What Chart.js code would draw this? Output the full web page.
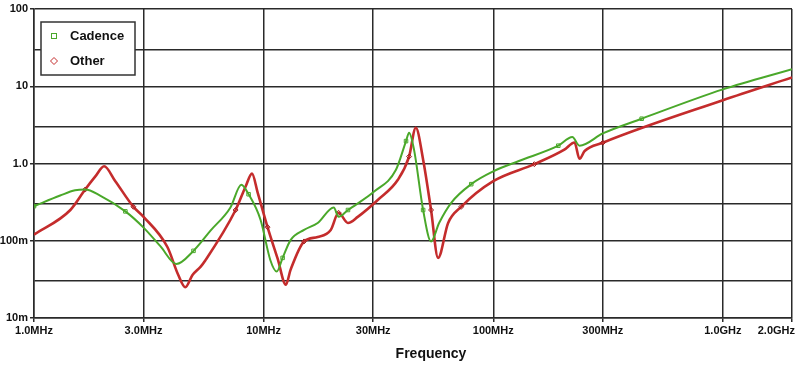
<!DOCTYPE html>
<html><head><meta charset="utf-8">
<script src="https://cdn.jsdelivr.net/npm/chart.js@4/dist/chart.umd.min.js"></script>
<style>html,body{margin:0;padding:0;background:#fff}#wrap{width:800px;height:367px;position:relative}</style>
</head><body><div id="wrap"><canvas id="c" width="800" height="367"></canvas></div>
<script>
// Frequencies in MHz, impedance values in ohms
const cadenceFreqMHz = [1.0,1.30,1.51,1.67,1.94,2.5,3.0,3.55,4.17,4.95,5.87,7.17,8.0,8.6,9.7,10.7,11.4,12.1,13.1,15.0,17.2,20.2,21.2,23.3,30.2,37.7,41.7,43,45.2,49.5,53.6,58.1,65.6,80.2,100,128.5,192,221,237.5,300,443,1000,2000];
const cadenceValues  = [0.28,0.385,0.45,0.46,0.385,0.24,0.148,0.085,0.05,0.074,0.135,0.27,0.53,0.40,0.186,0.056,0.04,0.060,0.102,0.138,0.17,0.27,0.204,0.25,0.43,0.83,1.95,2.5,1.5,0.25,0.098,0.17,0.31,0.54,0.79,1.07,1.70,2.2,1.70,2.45,3.8,9.1,16.6];
const otherFreqMHz   = [1.0,1.44,1.67,1.85,2.02,2.26,2.71,3.0,3.81,4.25,4.56,4.90,5.31,5.58,7.55,8.34,8.9,9.42,10.4,11.5,12.5,13.1,15.0,17.2,19.6,21.2,23.3,25.7,31.5,38.5,43.0,46,49.5,53.6,57.5,63.6,72.5,100,151,204,226,237.5,250,300,1000,2000];
const otherValues    = [0.12,0.25,0.46,0.68,0.92,0.59,0.275,0.204,0.083,0.036,0.025,0.036,0.046,0.056,0.25,0.5,0.74,0.42,0.15,0.059,0.027,0.042,0.098,0.112,0.138,0.23,0.17,0.204,0.34,0.62,1.23,2.9,1.12,0.25,0.06,0.17,0.275,0.59,0.98,1.51,1.87,1.15,1.45,1.86,6.6,13];
const cadenceMarkerIdx = [0,5,9,13,17,23,26,29,33,36,40];
const otherMarkerIdx = [2,6,14,18,22,25,30,33,36,38,43];
const xTicksMHz = [1,3,10,30,100,300,1000,2000];
const xTickLabels = ['1.0MHz','3.0MHz','10MHz','30MHz','100MHz','300MHz','1.0GHz','2.0GHz'];
const yTicks = [0.01,0.03,0.1,0.3,1,3,10,30,100];
const yTickLabels = ['10m','','100m','','1.0','','10','','100'];
const seriesNames = ['Cadence','Other'];
const xAxisTitle = 'Frequency';
const GREEN = '#4aa82a', RED = '#c42c2c';

const toXY = (fs, vs) => fs.map((f,i)=>({x:f*1e6,y:vs[i]}));

const legendPlugin = {
  id:'boxLegend',
  afterDraw(chart){
    const ctx = chart.ctx;
    ctx.save();
    ctx.strokeStyle = '#333'; ctx.lineWidth = 1.5;
    ctx.fillStyle = '#fff';
    ctx.fillRect(41,22,94,53);
    ctx.strokeRect(41,22,94,53);
    ctx.font = 'bold 13px Arial, "Liberation Sans", sans-serif';
    ctx.textBaseline = 'middle'; ctx.textAlign='left';
    ctx.fillStyle = '#111';
    ctx.fillText(seriesNames[0], 70, 36);
    ctx.fillText(seriesNames[1], 70, 61);
    ctx.lineWidth = 1;
    ctx.strokeStyle = GREEN;
    ctx.strokeRect(51.5,33.5,5,5);
    ctx.strokeStyle = RED;
    ctx.beginPath(); ctx.moveTo(54,57.5); ctx.lineTo(57.5,61); ctx.lineTo(54,64.5); ctx.lineTo(50.5,61); ctx.closePath(); ctx.stroke();
    // last x tick label, kept inside the canvas
    const xs = chart.scales.x;
    ctx.font = 'bold 11px Arial, "Liberation Sans", sans-serif';
    ctx.fillStyle = '#111'; ctx.textAlign = 'right'; ctx.textBaseline='top';
    ctx.fillText(xTickLabels[xTickLabels.length-1], 795, xs.top + 7);
    // axis title
    ctx.font = 'bold 14px Arial, "Liberation Sans", sans-serif';
    ctx.textAlign = 'center'; ctx.textBaseline = 'middle';
    ctx.fillText(xAxisTitle, 431, 354);
    ctx.restore();
  }
};

new Chart(document.getElementById('c'), {
  type:'line',
  data:{datasets:[
    {label:seriesNames[0], data:toXY(cadenceFreqMHz,cadenceValues), borderColor:GREEN, borderWidth:2,
     backgroundColor:'rgba(0,0,0,0)', pointStyle:'rect', pointBorderColor:GREEN, pointBorderWidth:1,
     pointRadius:(c)=>cadenceMarkerIdx.includes(c.dataIndex)?2.5:0, cubicInterpolationMode:'monotone', order:1},
    {label:seriesNames[1], data:toXY(otherFreqMHz,otherValues), borderColor:RED, borderWidth:2.6,
     backgroundColor:'rgba(0,0,0,0)', pointStyle:'rectRot', pointBorderColor:'#a02020', pointBorderWidth:1,
     pointRadius:(c)=>otherMarkerIdx.includes(c.dataIndex)?2.5:0, cubicInterpolationMode:'monotone', order:2}
  ]},
  options:{
    responsive:false, animation:false,
    layout:{padding:{top:9,right:8,left:0,bottom:0}},
    plugins:{legend:{display:false}, tooltip:{enabled:false}},
    scales:{
      x:{type:'logarithmic', min:1e6, max:2e9,
        afterBuildTicks(s){ s.ticks = xTicksMHz.map(v=>({value:v*1e6})); },
        afterFit(s){ s.height = 49; },
        ticks:{autoSkip:false, maxRotation:0, color:'#111', padding:2,
          font:{family:'Arial, "Liberation Sans", sans-serif', size:11, weight:'bold'},
          callback:(v,i)=> i===xTickLabels.length-1 ? '' : xTickLabels[i]},
        grid:{color:'#2a2a2a', lineWidth:1.5, tickLength:4, tickColor:'#2a2a2a'},
        border:{color:'#2a2a2a', width:1.5},
        title:{display:false}
      },
      y:{type:'logarithmic', min:0.01, max:100,
        afterBuildTicks(s){ s.ticks = yTicks.map(v=>({value:v})); },
        afterFit(s){ s.width = 34; },
        ticks:{autoSkip:false, color:'#111', padding:2,
          font:{family:'Arial, "Liberation Sans", sans-serif', size:11, weight:'bold'},
          callback:(v,i)=> yTickLabels[i]},
        grid:{color:'#2a2a2a', lineWidth:1.5, tickLength:4,
          tickColor:(c)=> (c.tick && yTickLabels[c.index]) ? '#2a2a2a' : 'rgba(0,0,0,0)'},
        border:{color:'#2a2a2a', width:1.5}
      }
    }
  },
  plugins:[legendPlugin]
});
</script></body></html>
